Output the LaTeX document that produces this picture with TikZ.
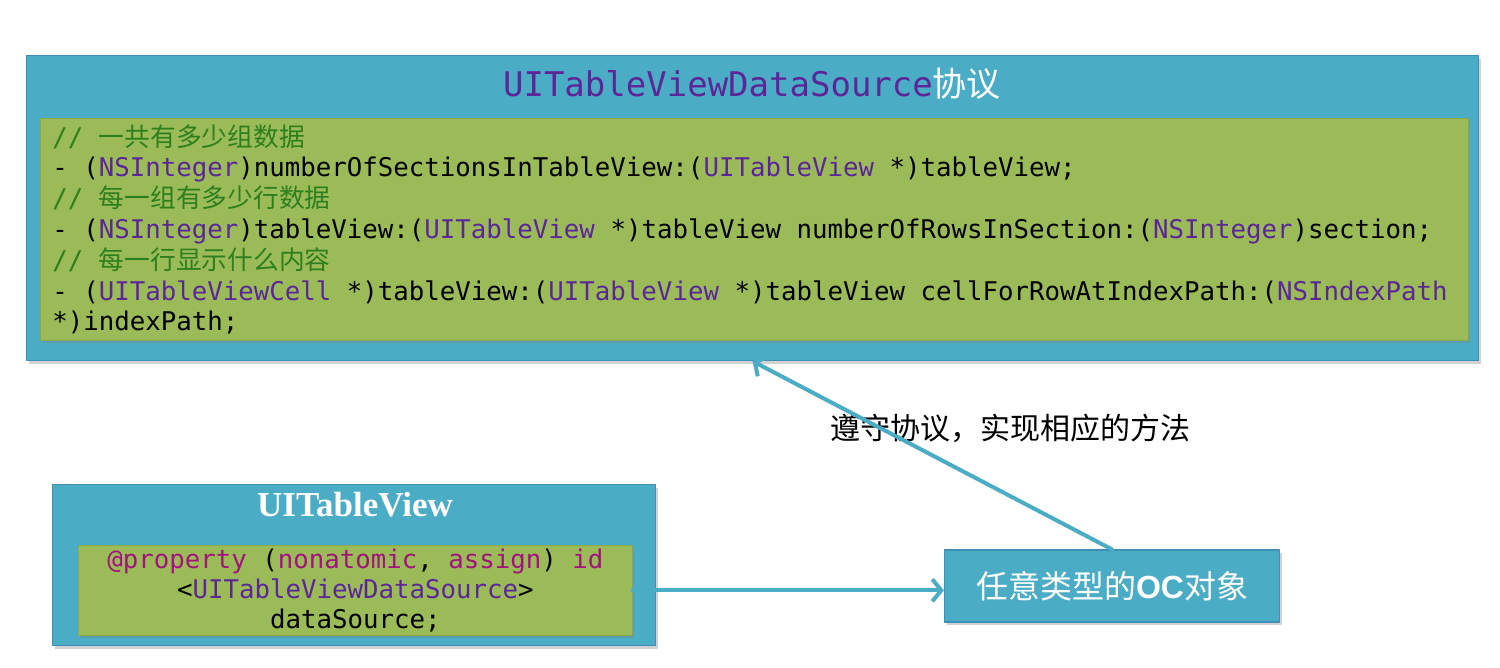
\documentclass[tikz,border=0pt]{standalone}
\usepackage{fontspec}
\setmainfont{Liberation Serif}
\setmonofont{DejaVu Sans Mono}
\newfontfamily\cjk{Noto Sans CJK SC}
\newfontfamily\ocfont{Liberation Sans}
\usetikzlibrary{arrows.meta,positioning,shadows}
\definecolor{dsBlue}{HTML}{4BACC6}
\definecolor{dsBlueEdge}{HTML}{3E8FB8}
\definecolor{dsGreen}{HTML}{9BBB59}
\definecolor{dsGreenEdge}{HTML}{8AA84C}
\definecolor{tyPurple}{HTML}{5C2699}
\definecolor{kwMagenta}{HTML}{A3137E}
\definecolor{cmGreen}{HTML}{2D7F1C}
\definecolor{linkBlue}{HTML}{4BACC6}
\newcommand{\ty}[1]{\textcolor{tyPurple}{#1}}
\newcommand{\kw}[1]{\textcolor{kwMagenta}{#1}}
\newcommand{\cm}[1]{\textcolor{cmGreen}{#1}}
\newcommand{\codefont}[2]{\ttfamily\fontsize{#1}{#2}\selectfont
  \fontdimen2\font=\fontcharwd\font`\x\fontdimen3\font=0pt\fontdimen4\font=0pt}
\begin{document}
\begin{tikzpicture}[x=1pt,y=-1pt,>={Straight Barb[length=9pt,width=22pt]},line cap=round,line join=round]
\useasboundingbox (0,0) rectangle (1500,667);
\path[fill=white] (0,0) rectangle (1500,667);
\tikzset{bluebox/.style={draw=dsBlueEdge,fill=dsBlue,line width=1.2pt,drop shadow={shadow xshift=2pt,shadow yshift=-3pt,opacity=.35}},
  codebox/.style={draw=dsGreenEdge,fill=dsGreen,line width=.8pt,inner xsep=12pt,font=\codefont{25.75}{30.8},drop shadow={shadow xshift=1.5pt,shadow yshift=-2.5pt,opacity=.35}},
  link/.style={draw=linkBlue,line width=4pt,->}}
% protocol box
\node[bluebox,anchor=north west,minimum width=1452,minimum height=305] (proto) at (26,55) {};
\node[font=\ttfamily\fontsize{34}{40}\selectfont] (prototitle) at (752,84) {\ty{UITableViewDataSource}\textcolor{white}{\cjk 协议}};
\node[codebox,anchor=north west,minimum width=1428,minimum height=222,text width=1404,align=left] (dscode) at (40,118) {\spaceskip=0pt\xspaceskip=0pt
\cm{// {\cjk 一共有多少组数据}}\\
- (\ty{NSInteger})numberOfSectionsInTableView:(\ty{UITableView} *)tableView;\\
\cm{// {\cjk 每一组有多少行数据}}\\
- (\ty{NSInteger})tableView:(\ty{UITableView} *)tableView numberOfRowsInSection:(\ty{NSInteger})section;\\
\cm{// {\cjk 每一行显示什么内容}}\\
- (\ty{UITableViewCell} *)tableView:(\ty{UITableView} *)tableView cellForRowAtIndexPath:(\ty{NSIndexPath}\\{}*)indexPath;};
% table view box
\node[bluebox,anchor=north west,minimum width=603,minimum height=161] (tv) at (52,484) {};
\node[text=white,font=\bfseries\fontsize{35}{40}\selectfont] (tvtitle) at (355,505) {UITableView};
\node[codebox,anchor=north west,minimum width=554,minimum height=85,align=center,font=\codefont{25.75}{30}] (tvcode) at (78,545) {\kw{@property} (\kw{nonatomic}, \kw{assign}) \kw{id}\\
<\ty{UITableViewDataSource}>\\
dataSource;};
% any object
\node[bluebox,minimum width=335,minimum height=72,text=white,font=\cjk\fontsize{32}{38}\selectfont] (oc) at (1112,586) {任意类型的{\ocfont\bfseries OC}对象};
\node[font=\cjk\fontsize{30}{36}\selectfont] (conform) at (1010,428) {遵守协议，实现相应的方法};
\draw[link] (tvcode.east) -- (tvcode.east -| oc.west);
\draw[link] (oc.north) -- (proto.south);
\end{tikzpicture}
\end{document}
